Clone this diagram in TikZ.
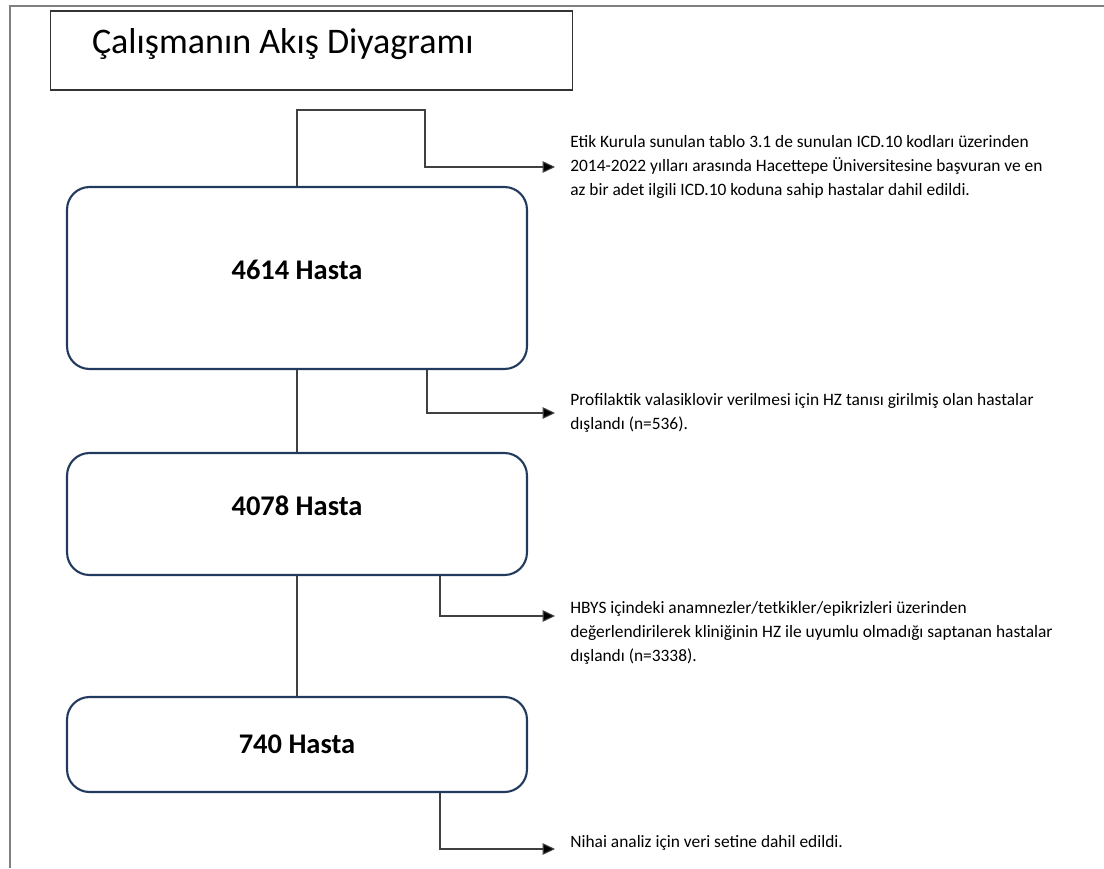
\documentclass[tikz,border=0pt]{standalone}
\usepackage{fontspec}
\setmainfont{Carlito}
\usetikzlibrary{arrows.meta}
\definecolor{kutu}{HTML}{223A5E}
\definecolor{hat}{HTML}{404040}
\tikzset{
  rahmen/.style={draw=gray, line width=1.1pt},
  baslik/.style={draw=black!80, line width=0.6pt, inner xsep=0.84cm, text width=8.78cm, align=flush left, minimum height=1.58cm, text depth=11pt, font=\fontsize{20.5}{24}\selectfont},
  hasta/.style={draw=kutu, line width=1.2pt, rounded corners=0.45cm, minimum width=9.2cm, font=\bfseries\fontsize{16.2}{19}\selectfont},
  cizgi/.style={draw=hat, line width=0.6pt},
  ok/.style={cizgi, -{Triangle[length=7pt,width=6.5pt,fill=black]}},
  aciklama/.style={anchor=west, align=left, inner sep=0pt, font=\fontsize{9.9}{13.6}\selectfont}
}

\begin{document}
\begin{tikzpicture}[x=0.02cm,y=-0.02cm]
  \useasboundingbox (0,0) rectangle (1104,868);
  \draw[rahmen] (10,868) -- (10,6) -- (1104,6);
  \node[baslik] (baslik) at (311.5,50.5) {Çalışmanın Akış Diyagramı};
  \node[hasta, minimum height=3.64cm, text depth=9pt] (h1) at (297,278) {4614 Hasta};
  \node[hasta, minimum height=2.44cm, text depth=9pt] (h2) at (297,514) {4078 Hasta};
  \node[hasta, minimum height=1.9cm] (h3) at (297,744.5) {740 Hasta};
  \coordinate (k0) at (425,110);
  \coordinate (k1) at (427,0);
  \coordinate (k2) at (440,0);
  \coordinate (a1) at (555,167);
  \coordinate (a2) at (555,413);
  \coordinate (a3) at (555,616);
  \coordinate (a4) at (555,849);
  \node[aciklama] (t1) at (570,167) {Etik Kurula sunulan tablo 3.1 de sunulan ICD.10 kodları üzerinden\\2014-2022 yılları arasında Hacettepe Üniversitesine başvuran ve en\\az bir adet ilgili ICD.10 koduna sahip hastalar dahil edildi.};
  \node[aciklama] (t2) at (570,413) {Profilaktik valasiklovir verilmesi için HZ tanısı girilmiş olan hastalar\\dışlandı (n=536).};
  \node[aciklama] (t3) at (570,633) {HBYS içindeki anamnezler/tetkikler/epikrizleri üzerinden\\değerlendirilerek kliniğinin HZ ile uyumlu olmadığı saptanan hastalar\\dışlandı (n=3338).};
  \node[aciklama] (t4) at (570,843) {Nihai analiz için veri setine dahil edildi.};
  \draw[ok] (h1.north) |- (k0) |- (a1);
  \draw[cizgi] (h1.south) -- (h2.north);
  \draw[cizgi] (h2.south) -- (h3.north);
  \draw[ok] (h1.south -| k1) |- (a2);
  \draw[ok] (h2.south -| k2) |- (a3);
  \draw[ok] (h3.south -| k2) |- (a4);
\end{tikzpicture}
\end{document}
